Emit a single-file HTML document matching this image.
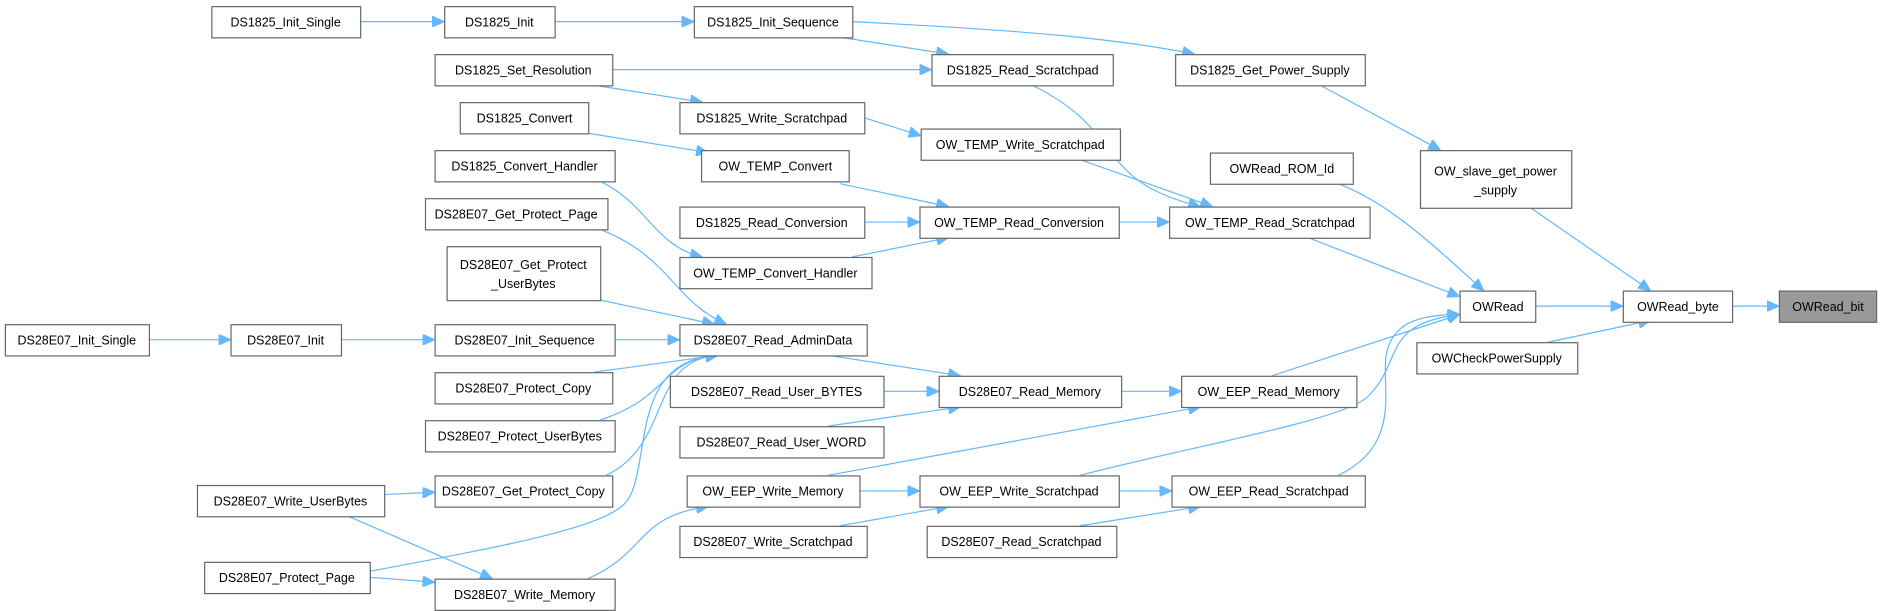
<!DOCTYPE html>
<html><head><meta charset="utf-8"><style>
html,body{margin:0;padding:0;background:#fff;}
svg{display:block}
text{font-family:"Liberation Sans",Arial,sans-serif;font-size:10.4px;fill:#000;text-anchor:middle}
rect{fill:#fff;stroke:#666;stroke-width:1}
path{fill:none;stroke:#63b8ff;stroke-width:1;marker-end:url(#a)}
</style></head><body>
<svg width="1882" height="611" viewBox="0 0 1568 509" xmlns="http://www.w3.org/2000/svg">
<defs><marker id="a" markerUnits="userSpaceOnUse" markerWidth="11" markerHeight="9" refX="10" refY="4.5" orient="auto"><polygon points="0,0 10,4.5 0,9" fill="#63b8ff" stroke="#63b8ff"/></marker></defs>
<g>
<path d="M300,18 H370"/>
<path d="M462,18 H578"/>
<path d="M700,31 L790,45"/>
<path d="M710,18 C850,25 930,32 995,45"/>
<path d="M510,58 H776"/>
<path d="M495,71 L585,85"/>
<path d="M720,98 L767,113"/>
<path d="M490,111 L590,127"/>
<path d="M700,153 L790,172"/>
<path d="M720,185 H766"/>
<path d="M710,214 L790,198"/>
<path d="M500,151 C540,170 545,205 585,214"/>
<path d="M932,185 H974"/>
<path d="M860,71 C940,110 910,150 1000,172"/>
<path d="M900,133 L1010,172"/>
<path d="M1090,198 L1216,247"/>
<path d="M1115,153 C1160,170 1200,210 1236,242"/>
<path d="M1100,71 L1200,125"/>
<path d="M1275,173 L1375,242"/>
<path d="M1279,255 H1352"/>
<path d="M1290,285 L1375,267"/>
<path d="M1443,255 H1482"/>
<path d="M500,191 C560,215 560,250 605,270"/>
<path d="M500,250 L595,270"/>
<path d="M124,283 H192"/>
<path d="M284,283 H362"/>
<path d="M512,283 H566"/>
<path d="M495,310 L598,296"/>
<path d="M500,350 C560,330 550,300 598,296"/>
<path d="M505,396 C560,370 540,300 598,296"/>
<path d="M308,476 C420,455 500,440 520,420 C545,395 520,300 598,296"/>
<path d="M320,412 L362,410"/>
<path d="M290,430 L410,482"/>
<path d="M308,481 L362,485"/>
<path d="M490,482 C540,460 530,430 590,422"/>
<path d="M690,296 L800,313"/>
<path d="M736,326 H782"/>
<path d="M690,355 L800,339"/>
<path d="M934,326 H984"/>
<path d="M1060,313 L1216,262"/>
<path d="M690,396 L1000,339"/>
<path d="M716,409 H766"/>
<path d="M932,409 H976"/>
<path d="M900,396 C1000,370 1120,350 1140,330 C1170,300 1150,270 1216,262"/>
<path d="M1115,396 C1170,370 1150,320 1155,295 C1160,270 1180,262 1216,262"/>
<path d="M700,438 L790,422"/>
<path d="M900,438 L1000,422"/>
</g>
<g>
<rect x="176.5" y="5.5" width="124" height="26"/><text x="238" y="22">DS1825_Init_Single</text>
<rect x="370.5" y="5.5" width="92" height="26"/><text x="416" y="22">DS1825_Init</text>
<rect x="578.5" y="5.5" width="132" height="26"/><text x="644" y="22">DS1825_Init_Sequence</text>
<rect x="362.5" y="45.5" width="148" height="26"/><text x="436" y="62">DS1825_Set_Resolution</text>
<rect x="776.5" y="45.5" width="151" height="26"/><text x="852" y="62">DS1825_Read_Scratchpad</text>
<rect x="979.5" y="45.5" width="158" height="26"/><text x="1058" y="62">DS1825_Get_Power_Supply</text>
<rect x="566.5" y="85.5" width="154" height="26"/><text x="643" y="102">DS1825_Write_Scratchpad</text>
<rect x="383.5" y="85.5" width="107" height="26"/><text x="437" y="102">DS1825_Convert</text>
<rect x="767.5" y="107.5" width="166" height="26"/><text x="850" y="124">OW_TEMP_Write_Scratchpad</text>
<rect x="584.5" y="125.5" width="123" height="26"/><text x="646" y="142">OW_TEMP_Convert</text>
<rect x="1008.5" y="127.5" width="119" height="26"/><text x="1068" y="144">OWRead_ROM_Id</text>
<rect x="1183.5" y="125.5" width="126" height="48"/><text x="1246" y="146">OW_slave_get_power</text><text x="1246" y="162">_supply</text>
<rect x="362.5" y="125.5" width="150" height="26"/><text x="437" y="142">DS1825_Convert_Handler</text>
<rect x="354.5" y="165.5" width="152" height="26"/><text x="430" y="182">DS28E07_Get_Protect_Page</text>
<rect x="566.5" y="172.5" width="154" height="26"/><text x="643" y="189">DS1825_Read_Conversion</text>
<rect x="766.5" y="172.5" width="166" height="26"/><text x="849" y="189">OW_TEMP_Read_Conversion</text>
<rect x="974.5" y="172.5" width="167" height="26"/><text x="1058" y="189">OW_TEMP_Read_Scratchpad</text>
<rect x="372.5" y="205.5" width="128" height="45"/><text x="436" y="224">DS28E07_Get_Protect</text><text x="436" y="240">_UserBytes</text>
<rect x="566.5" y="214.5" width="160" height="26"/><text x="646" y="231">OW_TEMP_Convert_Handler</text>
<rect x="4.5" y="270.5" width="120" height="26"/><text x="64" y="287">DS28E07_Init_Single</text>
<rect x="192.5" y="270.5" width="92" height="26"/><text x="238" y="287">DS28E07_Init</text>
<rect x="362.5" y="270.5" width="150" height="26"/><text x="437" y="287">DS28E07_Init_Sequence</text>
<rect x="566.5" y="270.5" width="156" height="26"/><text x="644" y="287">DS28E07_Read_AdminData</text>
<rect x="1216.5" y="242.5" width="63" height="26"/><text x="1248" y="259">OWRead</text>
<rect x="1352.5" y="242.5" width="91" height="26"/><text x="1398" y="259">OWRead_byte</text>
<rect x="1482.5" y="242.5" width="81" height="26" style="fill:#999"/><text x="1523" y="259">OWRead_bit</text>
<rect x="1180.5" y="285.5" width="134" height="26"/><text x="1247" y="302">OWCheckPowerSupply</text>
<rect x="362.5" y="310.5" width="148" height="26"/><text x="436" y="327">DS28E07_Protect_Copy</text>
<rect x="558.5" y="313.5" width="178" height="26"/><text x="647" y="330">DS28E07_Read_User_BYTES</text>
<rect x="782.5" y="313.5" width="152" height="26"/><text x="858" y="330">DS28E07_Read_Memory</text>
<rect x="984.5" y="313.5" width="146" height="26"/><text x="1057" y="330">OW_EEP_Read_Memory</text>
<rect x="354.5" y="350.5" width="158" height="26"/><text x="433" y="367">DS28E07_Protect_UserBytes</text>
<rect x="566.5" y="355.5" width="170" height="26"/><text x="651" y="372">DS28E07_Read_User_WORD</text>
<rect x="362.5" y="396.5" width="148" height="26"/><text x="436" y="413">DS28E07_Get_Protect_Copy</text>
<rect x="164.5" y="404.5" width="156" height="26"/><text x="242" y="421">DS28E07_Write_UserBytes</text>
<rect x="572.5" y="396.5" width="144" height="26"/><text x="644" y="413">OW_EEP_Write_Memory</text>
<rect x="766.5" y="396.5" width="166" height="26"/><text x="849" y="413">OW_EEP_Write_Scratchpad</text>
<rect x="976.5" y="396.5" width="161" height="26"/><text x="1057" y="413">OW_EEP_Read_Scratchpad</text>
<rect x="566.5" y="438.5" width="156" height="26"/><text x="644" y="455">DS28E07_Write_Scratchpad</text>
<rect x="772.5" y="438.5" width="158" height="26"/><text x="851" y="455">DS28E07_Read_Scratchpad</text>
<rect x="170.5" y="468.5" width="138" height="26"/><text x="239" y="485">DS28E07_Protect_Page</text>
<rect x="362.5" y="482.5" width="150" height="26"/><text x="437" y="499">DS28E07_Write_Memory</text>
</g>
</svg>
</body></html>
